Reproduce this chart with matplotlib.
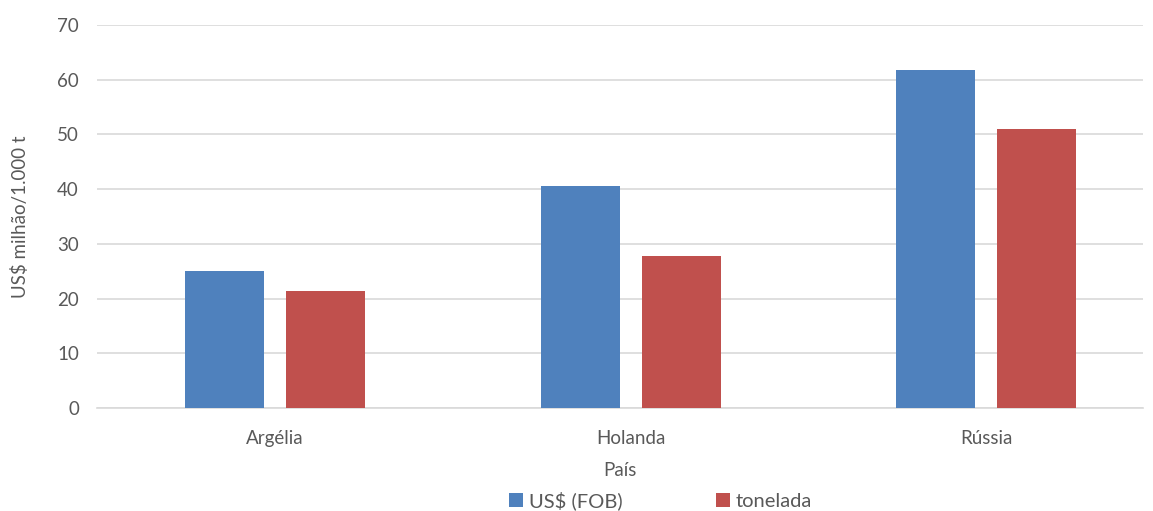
import matplotlib.pyplot as plt
import numpy as np

# ============================================
# DATA
# ============================================

paises = ['Argélia', 'Holanda', 'Rússia']
usd_fob = [25.1, 40.6, 61.8]
tonelada = [21.3, 27.8, 51.0]
y_ticks = [0, 10, 20, 30, 40, 50, 60, 70]

# ============================================
# STYLE
# ============================================

plt.rcParams['font.family'] = ['Lato', 'DejaVu Sans']
TEXT = '#595959'
BLUE = '#4f81bd'
RED = '#c0504d'
GRID = '#d9d9d9'

fig = plt.figure(figsize=(11.53, 5.11), dpi=100)
ax = fig.add_axes([0.0841, 0.2016, 0.9072, 0.7494])

x = np.arange(len(paises))
w = 0.222
off = 0.142

ax.bar(x - off, usd_fob, w, color=BLUE, label='US$ (FOB)', zorder=3)
ax.bar(x + off, tonelada, w, color=RED, label='tonelada', zorder=3)

ax.set_xlim(-0.5, 2.44)
ax.set_ylim(0, 70)
ax.set_yticks(y_ticks)
ax.set_xticks(x)
ax.set_xticklabels(paises)
ax.yaxis.grid(True, color=GRID, linewidth=1.2, zorder=0)
ax.set_axisbelow(True)

for s in ['top', 'right', 'left']:
    ax.spines[s].set_visible(False)
ax.spines['bottom'].set_color(GRID)
ax.spines['bottom'].set_linewidth(1.2)

ax.tick_params(axis='both', length=0, labelsize=13.5, colors=TEXT)
ax.tick_params(axis='y', pad=13)
ax.tick_params(axis='x', pad=16)

ax.set_xlabel('País', fontsize=13.5, color=TEXT, labelpad=11)
ax.set_ylabel('US$ milhão/1.000 t', fontsize=13.5, color=TEXT, labelpad=20)

fig.legend(loc='center', bbox_to_anchor=(0.573, 0.02), ncol=2, frameon=False,
           fontsize=14.5, labelcolor=TEXT, handlelength=0.7, handleheight=0.7,
           handletextpad=0.3, columnspacing=4.6)

fig.savefig('out.png', dpi=100)
